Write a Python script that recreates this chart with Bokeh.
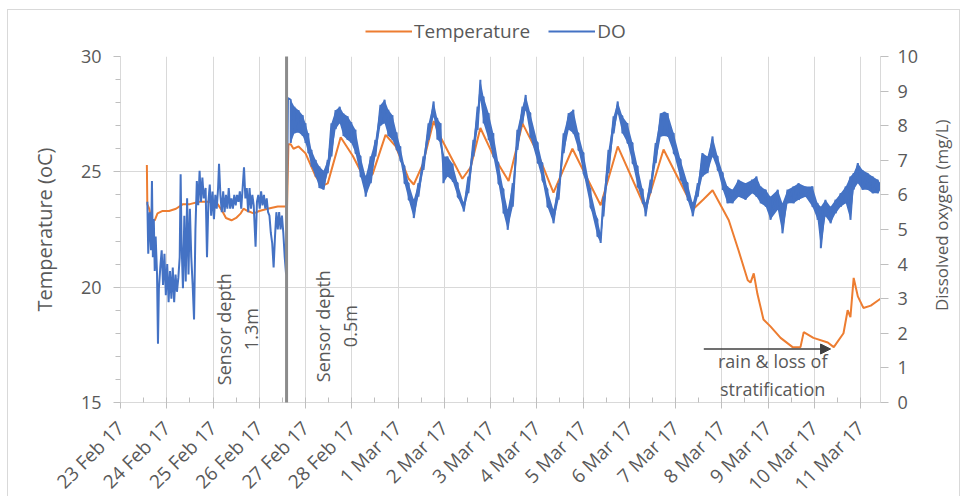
import math
from bokeh.plotting import figure
from bokeh.layouts import column, row
from bokeh.models import (Range1d, LinearAxis, FixedTicker, Legend, LegendItem,
                          Arrow, NormalHead, ColumnDataSource)
from bokeh.core.properties import value
from bokeh.embed import file_html
from bokeh.resources import INLINE

# ---------------- data (x = days since 23 Feb 2017 00:00) ----------------
x_labels = ["23 Feb 17", "24 Feb 17", "25 Feb 17", "26 Feb 17", "27 Feb 17",
            "28 Feb 17", "1 Mar 17", "2 Mar 17", "3 Mar 17", "4 Mar 17",
            "5 Mar 17", "6 Mar 17", "7 Mar 17", "8 Mar 17", "9 Mar 17",
            "10 Mar 17", "11 Mar 17"]
temp_ticks = [15, 20, 25, 30]
do_ticks = [0, 1, 2, 3, 4, 5, 6, 7, 8, 9, 10]

# Temperature (oC): (day, value)
temperature = [
    (0.57, 25.3), (0.58, 23.6), (0.62, 23.4), (0.68, 22.9), (0.74, 22.9),
    (0.80, 23.2), (0.90, 23.3), (1.05, 23.3), (1.20, 23.4), (1.35, 23.6),
    (1.50, 23.6), (1.70, 23.7), (1.90, 23.7), (2.10, 23.6), (2.20, 23.3),
    (2.28, 23.0), (2.40, 22.9), (2.50, 23.0), (2.60, 23.2), (2.66, 23.4),
    (2.75, 23.3), (2.88, 23.2), (3.00, 23.3), (3.18, 23.4), (3.40, 23.5),
    (3.60, 23.5), (3.63, 26.2), (3.68, 26.2), (3.74, 26.0), (3.85, 26.1),
    (4.00, 25.8), (4.22, 24.8), (4.37, 24.4), (4.48, 24.5), (4.76, 26.5),
    (5.02, 25.7), (5.30, 24.6), (5.45, 24.9), (5.73, 26.6), (5.95, 26.1),
    (6.23, 24.7), (6.34, 24.45), (6.53, 25.3), (6.77, 27.2), (6.92, 26.5),
    (7.39, 24.7), (7.57, 25.2), (7.78, 26.9), (8.06, 25.7), (8.39, 24.6),
    (8.69, 27.1), (9.02, 25.8), (9.36, 24.1), (9.77, 26.0), (10.38, 23.55),
    (10.75, 26.1), (11.35, 23.4), (11.74, 25.97), (12.39, 23.4), (12.60, 23.8),
    (12.80, 24.2), (13.15, 22.9), (13.36, 21.6), (13.56, 20.3), (13.62, 20.2),
    (13.69, 20.6), (13.77, 19.7), (13.90, 18.6), (14.05, 18.3), (14.27, 17.8),
    (14.53, 17.4), (14.70, 17.4), (14.77, 18.05), (14.98, 17.8), (15.29, 17.6),
    (15.42, 17.4), (15.63, 18.0), (15.72, 19.0), (15.78, 18.7), (15.85, 20.4),
    (15.94, 19.6), (16.06, 19.1), (16.22, 19.2), (16.43, 19.5),
]

# Dissolved oxygen (mg/L), sensor at 1.3 m: (day, value)
do_deep = [
    (0.58, 5.8), (0.60, 4.3), (0.63, 5.5), (0.66, 4.4), (0.68, 6.4), (0.70, 4.2),
    (0.72, 5.3), (0.74, 3.8), (0.76, 4.8), (0.79, 3.7), (0.81, 1.7), (0.83, 3.3),
    (0.86, 3.9), (0.89, 4.4), (0.92, 3.4), (0.95, 4.3), (0.98, 3.1), (1.01, 4.0),
    (1.04, 2.9), (1.07, 3.8), (1.10, 3.0), (1.13, 3.9), (1.16, 2.9), (1.19, 3.7),
    (1.22, 3.2), (1.25, 3.6), (1.28, 4.2), (1.30, 6.6), (1.32, 4.6), (1.35, 3.3),
    (1.38, 5.4), (1.41, 3.5), (1.44, 5.9), (1.47, 3.7), (1.50, 5.6), (1.53, 4.2),
    (1.56, 3.4), (1.59, 2.4), (1.62, 5.0), (1.65, 6.4), (1.68, 5.7), (1.71, 6.7),
    (1.74, 5.8), (1.77, 6.5), (1.80, 5.9), (1.84, 6.2), (1.87, 4.2), (1.90, 5.8),
    (1.93, 6.3), (1.96, 5.4), (1.99, 6.1), (2.02, 5.3), (2.05, 6.0), (2.08, 5.6),
    (2.11, 6.2), (2.13, 6.9), (2.16, 6.0), (2.19, 5.5), (2.22, 6.1), (2.25, 5.5),
    (2.28, 6.0), (2.31, 5.6), (2.34, 6.2), (2.37, 5.6), (2.40, 5.9), (2.43, 5.6),
    (2.46, 6.0), (2.49, 5.7), (2.52, 6.0), (2.55, 5.8), (2.58, 6.1), (2.61, 5.6),
    (2.64, 6.2), (2.67, 6.8), (2.70, 5.9), (2.73, 6.2), (2.76, 5.5), (2.79, 6.2),
    (2.82, 5.6), (2.85, 6.0), (2.88, 5.7), (2.92, 4.5), (2.95, 5.8), (2.98, 6.0),
    (3.01, 5.6), (3.04, 6.1), (3.07, 5.7), (3.10, 6.0), (3.13, 5.6), (3.16, 5.9),
    (3.19, 5.5), (3.22, 5.4), (3.25, 4.9), (3.28, 4.6), (3.31, 3.9), (3.34, 4.8),
    (3.37, 5.5), (3.40, 5.0), (3.43, 5.5), (3.46, 5.0), (3.49, 5.4), (3.52, 4.9),
    (3.55, 4.2), (3.58, 3.7), (3.62, 8.8),
]

# Dissolved oxygen (mg/L), sensor at 0.5 m: (day, upper edge, lower edge of trace)
do_shallow = [
    (3.68, 8.75, 7.50), (3.76, 8.55, 7.78), (3.85, 8.45, 7.80), (3.94, 8.30, 7.70),
    (4.00, 8.07, 7.50), (4.06, 7.78, 7.21), (4.13, 7.30, 6.82), (4.22, 7.01, 6.53),
    (4.30, 6.82, 6.20), (4.39, 6.70, 6.15), (4.48, 7.01, 6.63), (4.56, 8.07, 7.11),
    (4.65, 8.45, 7.90), (4.74, 8.55, 8.07), (4.82, 8.35, 7.70), (4.91, 8.27, 7.59),
    (4.99, 8.10, 7.50), (5.08, 7.88, 7.21), (5.19, 7.11, 6.53), (5.30, 6.53, 5.95),
    (5.41, 7.11, 6.34), (5.51, 7.59, 7.11), (5.62, 8.60, 8.00), (5.71, 8.75, 8.07),
    (5.79, 8.46, 7.70), (5.88, 8.30, 7.59), (5.97, 7.80, 7.30), (6.05, 7.40, 7.00),
    (6.14, 6.82, 6.34), (6.23, 6.34, 5.86), (6.34, 5.86, 5.33), (6.44, 6.34, 5.95),
    (6.55, 7.11, 6.72), (6.66, 8.07, 7.59), (6.77, 8.70, 8.27), (6.85, 8.20, 7.60),
    (6.92, 8.07, 7.50), (6.98, 7.11, 6.34), (7.07, 7.11, 6.53), (7.18, 6.90, 6.40),
    (7.29, 6.34, 5.95), (7.42, 5.76, 5.52), (7.52, 6.53, 6.05), (7.63, 7.59, 7.11),
    (7.72, 8.55, 7.88), (7.78, 9.33, 8.75), (7.85, 8.84, 8.07), (7.96, 8.36, 7.59),
    (8.06, 7.78, 7.11), (8.17, 6.92, 6.34), (8.28, 6.15, 5.47), (8.37, 5.57, 4.99),
    (8.48, 6.34, 5.66), (8.58, 7.88, 7.30), (8.69, 8.55, 8.07), (8.76, 8.89, 8.46),
    (8.86, 8.36, 7.69), (9.02, 7.50, 6.92), (9.12, 6.92, 6.44), (9.23, 6.15, 5.66),
    (9.36, 5.57, 5.18), (9.47, 6.34, 5.86), (9.58, 7.78, 7.21), (9.69, 8.36, 7.88),
    (9.79, 8.46, 7.78), (9.90, 7.78, 7.30), (10.01, 7.21, 6.63), (10.16, 6.15, 5.66),
    (10.31, 5.28, 4.80), (10.38, 4.89, 4.61), (10.44, 5.95, 5.38), (10.55, 7.30, 6.63),
    (10.66, 8.27, 7.78), (10.75, 8.70, 8.36), (10.85, 8.27, 7.78), (10.96, 8.07, 7.50),
    (11.07, 7.50, 6.92), (11.18, 6.82, 6.24), (11.29, 6.15, 5.76), (11.35, 5.76, 5.38),
    (11.46, 6.44, 6.05), (11.57, 7.50, 6.92), (11.68, 8.36, 7.69), (11.76, 8.40, 7.70),
    (11.83, 8.36, 7.69), (11.96, 7.78, 7.21), (12.11, 7.01, 6.44), (12.26, 6.34, 5.86),
    (12.37, 5.76, 5.38), (12.48, 6.34, 5.95), (12.58, 7.21, 6.53), (12.69, 7.11, 6.63),
    (12.80, 7.69, 7.11), (12.91, 7.11, 6.72), (13.02, 6.63, 6.15), (13.12, 6.24, 5.76),
    (13.23, 6.15, 5.76), (13.36, 6.44, 5.95), (13.51, 6.34, 5.86), (13.66, 6.44, 6.05),
    (13.75, 6.53, 5.95), (13.84, 6.24, 5.76), (13.95, 6.15, 5.66), (14.05, 5.95, 5.28),
    (14.21, 6.15, 5.57), (14.31, 5.76, 4.89), (14.42, 6.15, 5.76), (14.55, 6.24, 5.76),
    (14.66, 6.34, 5.86), (14.81, 6.24, 5.95), (14.96, 6.24, 5.66), (15.07, 5.76, 5.28),
    (15.14, 5.66, 4.46), (15.24, 5.86, 5.38), (15.35, 5.66, 5.18), (15.46, 5.86, 5.47),
    (15.57, 6.05, 5.66), (15.68, 6.24, 5.76), (15.78, 6.53, 5.28), (15.85, 6.63, 6.15),
    (15.94, 6.92, 6.34), (16.04, 6.72, 6.15), (16.15, 6.63, 6.15), (16.26, 6.53, 6.05),
    (16.37, 6.44, 6.05), (16.43, 6.34, 6.15),
]

sensor_change_day = 3.59   # sensor moved from 1.3 m to 0.5 m

# ---------------- build sources ----------------
t_src = ColumnDataSource(dict(x=[d for d, _ in temperature], y=[v for _, v in temperature]))
do_x = [d for d, _ in do_deep]
do_y = [v for _, v in do_deep]
for d, hi, lo in do_shallow:
    do_x += [d, d]
    do_y += [hi, lo]
do_src = ColumnDataSource(dict(x=do_x, y=do_y))
band_src = ColumnDataSource(dict(x=[r[0] for r in do_shallow],
                                 hi=[r[1] for r in do_shallow],
                                 lo=[r[2] for r in do_shallow]))

# ---------------- styling ----------------
FONT = "Open Sans"
TXT = "#595959"
GRID = "#D9D9D9"
ORANGE = "#ED7D31"
BLUE = "#4472C4"
FS = "18px"
W = 951          # inner width of the bordered chart area
MAIN_W = 917     # main chart width (right title strip takes the rest)
MAIN_H = 473

# ---------------- legend strip (own small figure so it is not clipped) ----------------
lf = figure(width=W, height=34, x_range=Range1d(100, 101), y_range=Range1d(100, 101),
            output_backend="svg", toolbar_location=None, min_border=0,
            x_axis_location=None, y_axis_location=None)
lf.grid.visible = False
lf.outline_line_color = None
lr_t = lf.line("x", "y", source=t_src, line_color=ORANGE, line_width=2)
lr_do = lf.line("x", "y", source=do_src, line_color=BLUE, line_width=2)
leg = Legend(items=[LegendItem(label="Temperature", renderers=[lr_t]),
                    LegendItem(label="DO", renderers=[lr_do])],
             orientation="horizontal", location=(357, 0),
             border_line_color=None, background_fill_alpha=0,
             label_text_font=FONT, label_text_font_size="19px", label_text_color=TXT,
             glyph_width=47, glyph_height=20, spacing=18, padding=0, margin=0,
             label_standoff=2)
lf.add_layout(leg, "center")

# ---------------- main chart ----------------
p = figure(width=MAIN_W, height=MAIN_H, x_range=Range1d(0, 16.43), y_range=Range1d(15, 30),
           output_backend="svg", toolbar_location=None,
           min_border_left=112, min_border_right=45, min_border_top=12, min_border_bottom=115)
p.outline_line_color = None
p.extra_y_ranges = {"do": Range1d(0, 10)}

# grid
p.xgrid.ticker = FixedTicker(ticks=list(range(len(x_labels))))
p.ygrid.ticker = FixedTicker(ticks=temp_ticks)
p.xgrid.grid_line_color = GRID
p.ygrid.grid_line_color = GRID

# x axis
xa = p.xaxis[0]
xa.ticker = FixedTicker(ticks=list(range(len(x_labels))),
                        minor_ticks=[i + 0.5 for i in range(len(x_labels) - 1)])
xa.major_label_overrides = {i: lab for i, lab in enumerate(x_labels)}
xa.major_label_orientation = math.pi / 4
xa.major_tick_in = 5
xa.major_tick_out = 6
xa.minor_tick_in = 5
xa.minor_tick_out = 0

# left axis
ya = p.yaxis[0]
ya.ticker = FixedTicker(ticks=temp_ticks, minor_ticks=[v for v in range(15, 31) if v % 5])
ya.axis_label = "Temperature (oC)"
ya.major_tick_in = 0
ya.major_tick_out = 7
ya.minor_tick_in = 0
ya.minor_tick_out = 5
ya.axis_label_standoff = 20

# right axis (its title is drawn in the strip to the right, reading bottom-to-top)
ra = LinearAxis(y_range_name="do", ticker=FixedTicker(ticks=do_ticks))
ra.major_tick_in = 0
ra.major_tick_out = 8
p.add_layout(ra, "right")

for ax in (xa, ya, ra):
    ax.axis_line_color = GRID
    ax.major_tick_line_color = "#BFBFBF"
    ax.minor_tick_line_color = "#BFBFBF" if ax is not ra else None
    ax.major_label_text_font = FONT
    ax.major_label_text_font_size = FS
    ax.major_label_text_color = TXT
    ax.axis_label_text_font = FONT
    ax.axis_label_text_font_size = "20px"
    ax.axis_label_text_font_style = "normal"
    ax.axis_label_text_color = TXT
xa.major_label_text_font_size = "19px"
xa.major_label_standoff = 16
ya.major_label_standoff = 12
ra.major_label_standoff = 9

# series
p.line("x", "y", source=t_src, line_color=ORANGE, line_width=2)
p.varea(x="x", y1="lo", y2="hi", source=band_src, fill_color=BLUE, fill_alpha=1.0,
        y_range_name="do")
p.line("x", "y", source=do_src, line_color=BLUE, line_width=2, y_range_name="do")

# sensor change marker
p.add_layout(Arrow(x_start=sensor_change_day, y_start=30.15, x_end=sensor_change_day, y_end=14.52,
                   start=None, end=None, line_color="#8C8C8C", line_width=3))

# annotations
note_kw = dict(text_font=value(FONT), text_font_size=FS, text_color=TXT,
               text_line_height=1.15, text_align="center", text_baseline="middle")
p.text(x=[2.53], y=[18.18], text=["Sensor depth\n1.3m"], angle=math.pi / 2, **note_kw)
p.text(x=[4.67], y=[18.31], text=["Sensor depth\n0.5m"], angle=math.pi / 2, **note_kw)
p.add_layout(Arrow(x_start=12.61, y_start=17.32, x_end=15.35, y_end=17.32,
                   line_color="#404040", line_width=1.5,
                   end=NormalHead(size=10, fill_color="#404040", line_color="#404040")))
p.text(x=[14.10], y=[16.19], text=["rain & loss of\nstratification"], **note_kw)

# ---------------- right axis title strip ----------------
rf = figure(width=W - MAIN_W, height=MAIN_H, x_range=Range1d(0, W - MAIN_W),
            y_range=Range1d(0, MAIN_H), output_backend="svg", toolbar_location=None,
            min_border=0, x_axis_location=None, y_axis_location=None)
rf.grid.visible = False
rf.outline_line_color = None
rf.text(x=[16], y=[256], text=["Dissolved oxygen (mg/L)"], angle=math.pi / 2,
        text_align="center", text_baseline="middle", text_font=value(FONT),
        text_font_size="17px", text_color=TXT)

layout = column(lf, row(p, rf, spacing=0), spacing=0,
                styles={"margin-left": "7px", "margin-top": "9px",
                        "border-top": "1px solid #D9D9D9",
                        "border-left": "1px solid #D9D9D9",
                        "border-right": "1px solid #D9D9D9",
                        "height": "487px", "overflow": "hidden",
                        "background": "white"})

open("out.html", "w").write(file_html(layout, INLINE))
